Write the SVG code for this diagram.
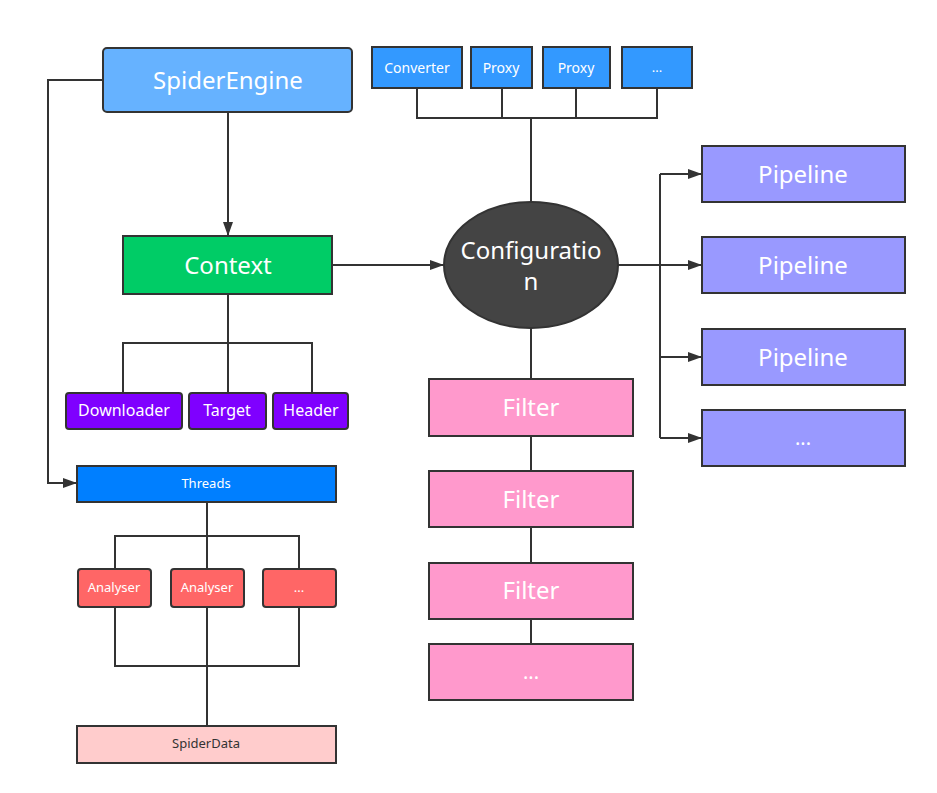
<svg xmlns="http://www.w3.org/2000/svg" width="937" height="793" viewBox="0 0 937 793">
<defs>
<marker id="arr" viewBox="0 0 14 10" refX="14" refY="5" markerWidth="14" markerHeight="10" markerUnits="userSpaceOnUse" orient="auto">
<path d="M0,0 L14,5 L0,10 Z" fill="#333"/>
</marker>
<style>
.n{stroke:#333;stroke-width:2}
.t{font-family:"Noto Sans","Open Sans",sans-serif;fill:#fff;text-anchor:middle;dominant-baseline:central}
.c{fill:none;stroke:#333;stroke-width:2}
</style>
</defs>
<rect width="937" height="793" fill="#fff"/>
<g id="connectors">
<path class="c" d="M103,80 H48 V483 H77" marker-end="url(#arr)"/>
<path class="c" d="M228,112 V236" marker-end="url(#arr)"/>
<path class="c" d="M332,265 H444" marker-end="url(#arr)"/>
<path class="c" d="M417,88 V118 H657 V88 M502,88 V118 M576,88 V118 M531,118 V202"/>
<path class="c" d="M228,294 V393 M123,393 V343 H312 V393"/>
<path class="c" d="M207,502 V569 M115,569 V536 H299 V569"/>
<path class="c" d="M115,607 V666 H299 V607 M207,607 V726"/>
<path class="c" d="M531,328 V379 M531,436 V471 M531,527 V563 M531,619 V644"/>
<path class="c" d="M618,265 H702" marker-end="url(#arr)"/>
<path class="c" d="M660,174 H702" marker-end="url(#arr)"/>
<path class="c" d="M660,357 H702" marker-end="url(#arr)"/>
<path class="c" d="M660,438 H702" marker-end="url(#arr)"/>
<path class="c" d="M660,174 V438"/>
</g>
<g id="spiderengine"><rect class="n" x="103" y="48" width="249" height="64" rx="4" fill="#66b2ff"/><text class="t" x="228" y="79" font-size="24">SpiderEngine</text></g>
<g id="context"><rect class="n" x="123" y="236" width="209" height="58" fill="#00cc66"/><text class="t" x="228" y="264" font-size="24">Context</text></g>
<g id="configuration"><ellipse class="n" cx="531" cy="265" rx="87" ry="63" fill="#444"/><text class="t" x="531" y="249" font-size="24">Configuratio</text><text class="t" x="531" y="280" font-size="24">n</text></g>
<g id="converter"><rect class="n" x="372" y="47" width="90" height="41" fill="#3399ff"/><text class="t" x="417" y="67" font-size="14">Converter</text></g>
<g id="proxy1"><rect class="n" x="471" y="47" width="61" height="41" fill="#3399ff"/><text class="t" x="501" y="67" font-size="14">Proxy</text></g>
<g id="proxy2"><rect class="n" x="543" y="47" width="67" height="41" fill="#3399ff"/><text class="t" x="576" y="67" font-size="14">Proxy</text></g>
<g id="more1"><rect class="n" x="622" y="47" width="70" height="41" fill="#3399ff"/><text class="t" x="657" y="67" font-size="13">...</text></g>
<g id="downloader"><rect class="n" x="66" y="393" width="116" height="36" rx="3" fill="#7f00ff"/><text class="t" x="124" y="410" font-size="16">Downloader</text></g>
<g id="target"><rect class="n" x="189" y="393" width="77" height="36" rx="3" fill="#7f00ff"/><text class="t" x="227" y="410" font-size="16">Target</text></g>
<g id="header"><rect class="n" x="273" y="393" width="75" height="36" rx="3" fill="#7f00ff"/><text class="t" x="311" y="410" font-size="16">Header</text></g>
<g id="threads"><rect class="n" x="77" y="466" width="259" height="36" fill="#007fff"/><text class="t" x="206" y="483" font-size="13">Threads</text></g>
<g id="analyser1"><rect class="n" x="78" y="569" width="73" height="38" rx="3" fill="#ff6666"/><text class="t" x="114" y="587" font-size="13">Analyser</text></g>
<g id="analyser2"><rect class="n" x="171" y="569" width="73" height="38" rx="3" fill="#ff6666"/><text class="t" x="207" y="587" font-size="13">Analyser</text></g>
<g id="more2"><rect class="n" x="263" y="569" width="73" height="38" rx="3" fill="#ff6666"/><text class="t" x="299" y="587" font-size="13">...</text></g>
<g id="spiderdata"><rect class="n" x="77" y="726" width="259" height="37" fill="#ffcccc"/><text class="t" x="206" y="743" font-size="13" style="fill:#333">SpiderData</text></g>
<g id="filter1"><rect class="n" x="429" y="379" width="204" height="57" fill="#ff99cc"/><text class="t" x="531" y="406" font-size="24">Filter</text></g>
<g id="filter2"><rect class="n" x="429" y="471" width="204" height="56" fill="#ff99cc"/><text class="t" x="531" y="498" font-size="24">Filter</text></g>
<g id="filter3"><rect class="n" x="429" y="563" width="204" height="56" fill="#ff99cc"/><text class="t" x="531" y="589" font-size="24">Filter</text></g>
<g id="more3"><rect class="n" x="429" y="644" width="204" height="56" fill="#ff99cc"/><text class="t" x="531" y="671" font-size="20">...</text></g>
<g id="pipeline1"><rect class="n" x="702" y="146" width="203" height="56" fill="#9999ff"/><text class="t" x="803" y="173" font-size="24">Pipeline</text></g>
<g id="pipeline2"><rect class="n" x="702" y="237" width="203" height="56" fill="#9999ff"/><text class="t" x="803" y="264" font-size="24">Pipeline</text></g>
<g id="pipeline3"><rect class="n" x="702" y="329" width="203" height="56" fill="#9999ff"/><text class="t" x="803" y="356" font-size="24">Pipeline</text></g>
<g id="more4"><rect class="n" x="702" y="410" width="203" height="56" fill="#9999ff"/><text class="t" x="803" y="437" font-size="20">...</text></g>
</svg>
